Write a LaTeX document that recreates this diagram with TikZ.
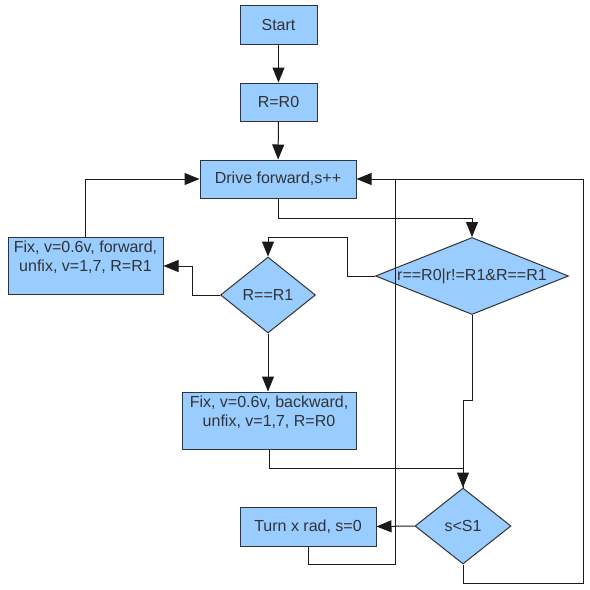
\documentclass[tikz,border=0pt]{standalone}
\usepackage{fontspec}
\setmainfont{Liberation Sans}
\usetikzlibrary{shapes.geometric,arrows.meta}
\definecolor{boxfill}{HTML}{99CCFF}
\definecolor{edge}{HTML}{333333}
\definecolor{wire}{HTML}{1A1A1A}
\tikzset{
  base/.style={draw=edge, fill=boxfill, line width=1pt, inner sep=0pt, text=edge,
    font=\fontsize{16}{19}\selectfont, align=center},
  procbox/.style={base, rectangle},
  decide/.style={base, diamond},
  conn/.style={draw=wire, line width=1pt},
  arr/.style={conn, -{Triangle[length=15pt,width=12pt]}},
}
\begin{document}
\begin{tikzpicture}[x=1pt,y=-1pt]
\useasboundingbox (0,0) rectangle (590,590);
\node[procbox, minimum width=77, minimum height=39] (start) at (278.5,24.5) {Start};
\node[procbox, minimum width=77, minimum height=38] (r0) at (278.5,102) {R=R0};
\node[procbox, minimum width=156, minimum height=38] (drive) at (278,179) {Drive forward,s++};
\node[decide, aspect=2.5, minimum width=193, minimum height=77] (d1) at (472,276) {r==R0|r!=R1\&R==R1};
\node[decide, aspect=1.25, minimum width=95, minimum height=76] (rr1) at (268,295) {R==R1};
\node[procbox, minimum width=155, minimum height=57] (fixf) at (85.5,266) {Fix, v=0.6v, forward,\\unfix, v=1,7, R=R1\\ };
\node[procbox, minimum width=174, minimum height=57] (fixb) at (269,420.5) {Fix, v=0.6v, backward,\\unfix, v=1,7, R=R0\\ };
\node[decide, aspect=1.25, minimum width=96, minimum height=76] (s1) at (463,526) {s<S1};
\node[procbox, minimum width=136, minimum height=39] (turn) at (308,526.5) {Turn x rad, s=0};

\coordinate (a1) at (278,218);
\coordinate (a2) at (347,237);
\coordinate (a3) at (192,295);
\coordinate (a4) at (269,468);
\coordinate (a5) at (472,400);
\coordinate (a6) at (463,400);
\coordinate (a7) at (395,564);
\coordinate (a8) at (395,179);
\coordinate (a9) at (583,583);

\draw[arr] (start) -- (r0);
\draw[arr] (r0) -- (drive);
\draw[arr] (fixf.north) |- (drive.west);
\draw[arr] (drive.south) -- (a1) -| (d1.north);
\draw[arr] (d1.west) -| (a2) -| (rr1.north);
\draw[arr] (rr1.west) -- (a3) |- (fixf.east);
\draw[arr] (rr1.south) -- (rr1.south |- fixb.north);
\draw[arr] (fixb.south) |- (a4) -| (s1.north);
\draw[conn] (d1.south) -- (a5) -- (a6) -- (s1.north);
\draw[arr] (s1.west) -- (turn.east);
\draw[conn] (turn.south) |- (a7) -- (a8);
\draw[arr] (s1.south) |- (a9) |- (drive.east);
\end{tikzpicture}
\end{document}
